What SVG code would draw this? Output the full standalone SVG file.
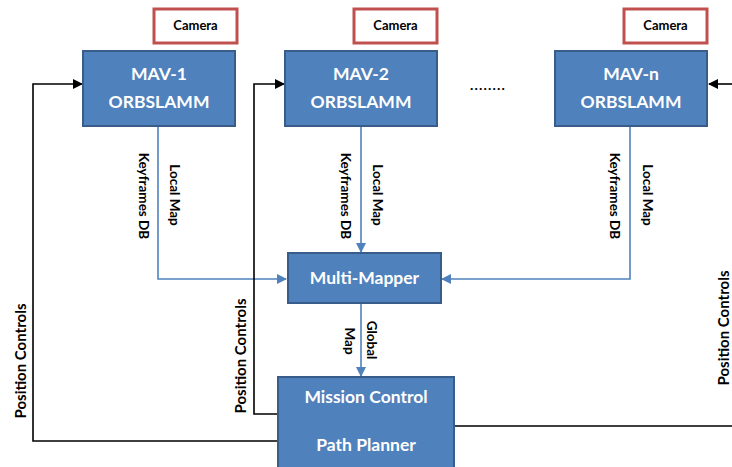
<svg xmlns="http://www.w3.org/2000/svg" width="732" height="467" viewBox="0 0 732 467">
<defs>
<style>
.box{fill:#4f81bd;stroke:#385d8a;stroke-width:2}
.cam{fill:#fff;stroke:#c0504d;stroke-width:3}
.nt{font-family:Lato,"Open Sans",sans-serif;font-weight:bold;font-size:17.5px;fill:#fff;text-anchor:middle}
.ct{font-family:Lato,"Open Sans",sans-serif;font-weight:bold;font-size:13px;fill:#000;text-anchor:middle}
.lt{font-family:Lato,"Open Sans",sans-serif;font-weight:bold;font-size:13.5px;fill:#000;text-anchor:middle}
.pt{font-family:Lato,"Open Sans",sans-serif;font-weight:bold;font-size:15px;fill:#000;text-anchor:middle}
.bl{fill:none;stroke:#4f81bd;stroke-width:1.6}
.kl{fill:none;stroke:#000;stroke-width:1.6}
</style>
<marker id="ab" markerWidth="10" markerHeight="10" refX="9" refY="5" orient="auto" markerUnits="userSpaceOnUse"><path d="M0,0 L10,5 L0,10 Z" fill="#4f81bd"/></marker>
<marker id="ak" markerWidth="10" markerHeight="10" refX="9" refY="5" orient="auto" markerUnits="userSpaceOnUse"><path d="M0,0 L10,5 L0,10 Z" fill="#000"/></marker>
</defs>
<rect width="732" height="467" fill="#fff"/>
<g id="connectors">
<path class="bl" d="M158,126 V279 H286" marker-end="url(#ab)"/>
<path class="bl" d="M361,126 V252" marker-end="url(#ab)"/>
<path class="bl" d="M630,126 V279 H442" marker-end="url(#ab)"/>
<path class="bl" d="M361,304 V376" marker-end="url(#ab)"/>
<path class="kl" d="M279,441 H33 V84 H82" marker-end="url(#ak)"/>
<path class="kl" d="M279,414 H254 V84 H284" marker-end="url(#ak)"/>
<path class="kl" d="M454,426 H732"/>
<path class="kl" d="M732,84 H709" marker-end="url(#ak)"/>
<text class="lt" transform="translate(139,196) rotate(90)">Keyframes DB</text>
<text class="lt" transform="translate(170,195) rotate(90)">Local Map</text>
<text class="lt" transform="translate(341,196) rotate(90)">Keyframes DB</text>
<text class="lt" transform="translate(373,195) rotate(90)">Local Map</text>
<text class="lt" transform="translate(610,196) rotate(90)">Keyframes DB</text>
<text class="lt" transform="translate(643,195) rotate(90)">Local Map</text>
<text class="lt" transform="translate(367,340) rotate(90)">Global</text>
<text class="lt" transform="translate(345,341) rotate(90)">Map</text>
<text class="pt" transform="translate(26,361) rotate(-90)">Position Controls</text>
<text class="pt" transform="translate(246,356) rotate(-90)">Position Controls</text>
<text class="pt" transform="translate(729,328) rotate(-90)">Position Controls</text>
<text x="488" y="90" font-family="Lato,sans-serif" font-weight="bold" font-size="14" letter-spacing="1.2" text-anchor="middle">........</text>
</g>
<g id="cam1"><rect class="cam" x="154" y="9" width="83" height="34"/><text class="ct" x="195.5" y="30">Camera</text></g>
<g id="cam2"><rect class="cam" x="354" y="9" width="83" height="34"/><text class="ct" x="395.5" y="30">Camera</text></g>
<g id="camn"><rect class="cam" x="624" y="9" width="83" height="34"/><text class="ct" x="665.5" y="30">Camera</text></g>
<g id="mav1"><rect class="box" x="83" y="51" width="152" height="75"/><text class="nt" x="159" y="80">MAV-1</text><text class="nt" x="159" y="108">ORBSLAMM</text></g>
<g id="mav2"><rect class="box" x="285" y="51" width="152" height="75"/><text class="nt" x="361" y="80">MAV-2</text><text class="nt" x="361" y="108">ORBSLAMM</text></g>
<g id="mavn"><rect class="box" x="555" y="51" width="152" height="75"/><text class="nt" x="631" y="80">MAV-n</text><text class="nt" x="631" y="108">ORBSLAMM</text></g>
<g id="multimapper"><rect class="box" x="288" y="253" width="153" height="50"/><text class="nt" x="364.5" y="284">Multi-Mapper</text></g>
<g id="mission"><rect class="box" x="278" y="377" width="176" height="95"/><text class="nt" x="366" y="403">Mission Control</text><text class="nt" x="366" y="451">Path Planner</text></g>
</svg>
